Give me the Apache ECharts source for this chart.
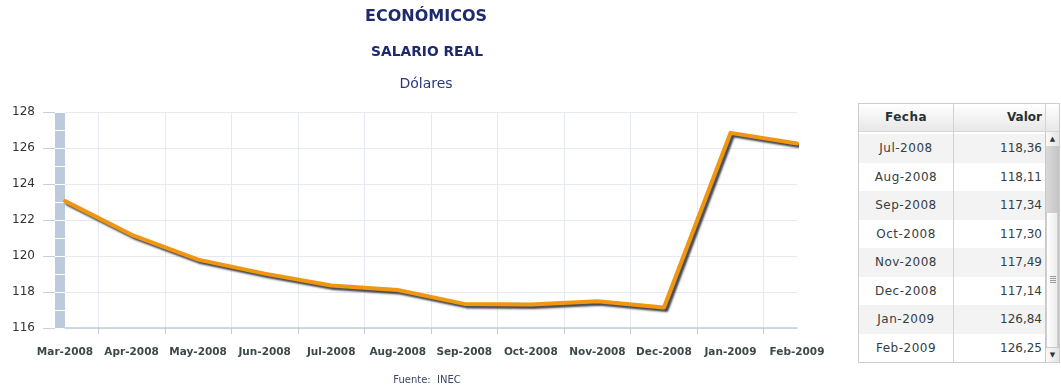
<!DOCTYPE html>
<html>
<head>
<meta charset="utf-8">
<script src="https://cdn.jsdelivr.net/npm/echarts@6/dist/echarts.min.js"></script>
<style>
  html, body { margin: 0; padding: 0; background: #fff; }
  #chart { position: absolute; left: 0; top: 0; width: 1061px; height: 392px; }
  #tbl {
    position: absolute; left: 858px; top: 103px; width: 202px; height: 260px;
    box-sizing: border-box; border: 1px solid #cdcdcd; background: #fff;
    font-family: 'DejaVu Sans', Verdana, sans-serif; font-size: 12px; color: #33403f;
    overflow: hidden;
  }
  #tbl .head { display: flex; height: 27px; line-height: 27px; font-weight: bold; color: #263131;
    background: linear-gradient(#ffffff, #e7e7e7); border-bottom: 1px solid #d6d6d6; }
  #tbl .c1 { width: 95px; text-align: center; border-right: 1px solid #d2d2d2; box-sizing: border-box; letter-spacing: 0.5px; }
  #tbl .c2 { width: 91px; text-align: right; padding-right: 3px; box-sizing: border-box; }
  #tbl .c3 { width: 14px; border-left: 1px solid #d2d2d2; box-sizing: border-box; }
  #tbl .body { position: absolute; left: 0; top: 28px; width: 186px; height: 230px; overflow: hidden; }
  #tbl .row { display: flex; height: 28.5px; line-height: 28.5px; }
  #tbl .row.alt { background: #f3f3f3; }
  #sb { position: absolute; left: 186px; top: 28px; width: 14px; height: 230px; border-left: 1px solid #c8c8c8; box-sizing: border-box; background: #fff; }
  #sb .btn { position: absolute; left: 0; width: 13px; height: 14px; background: linear-gradient(90deg, #fafafa, #e4e4e4);
    font-size: 7px; line-height: 14px; text-align: center; color: #333; }
  #sb .up { top: 0; }
  #sb .down { bottom: 0; border-top: 1px solid #c8c8c8; }
  #sb .track { position: absolute; left: 0; top: 14px; width: 13px; bottom: 14px; background: linear-gradient(90deg, #d9d9d9, #c4c4c4); }
  #sb .thumb { position: absolute; left: 0; width: 12px; box-sizing: border-box; background: linear-gradient(90deg, #ffffff, #ececec);
    border: 1px solid #cfcfcf; }
  #sb .grip { position: absolute; left: 3px; width: 6px; height: 7px; top: 50%; margin-top: -4px;
    background: repeating-linear-gradient(#9a9a9a 0 1px, transparent 1px 2px); }
</style>
</head>
<body>
<div id="chart"></div>
<div id="tbl">
  <div class="head"><div class="c1">Fecha</div><div class="c2">Valor</div><div class="c3"></div></div>
  <div class="body" id="rows"></div>
  <div id="sb">
    <div class="btn up">&#9650;</div>
    <div class="track"><div class="thumb" id="thumb"><div class="grip"></div></div></div>
    <div class="btn down">&#9660;</div>
  </div>
</div>
<script>
// Monthly real wage (USD), March 2008 – February 2009
const months = ['Mar-2008', 'Apr-2008', 'May-2008', 'Jun-2008', 'Jul-2008', 'Aug-2008',
                'Sep-2008', 'Oct-2008', 'Nov-2008', 'Dec-2008', 'Jan-2009', 'Feb-2009'];
const salario = [123.05, 121.18, 119.80, 119.02, 118.36, 118.11,
                 117.34, 117.30, 117.49, 117.14, 126.84, 126.25];

// Value axis range
const yMin = 116;
const yMax = 128;
const yStep = 2;

const FONT = "'DejaVu Sans', Verdana, sans-serif";

// Half-step slots between categories: odd slots sit midway between two months
const gridSlots = Array.from({ length: 2 * (months.length - 1) + 1 }, () => '');
const oddSlot = (i) => i % 2 === 1;

const chart = echarts.init(document.getElementById('chart'), null, { renderer: 'canvas' });
chart.setOption({
  animation: false,
  backgroundColor: '#fff',
  title: [
    { text: 'ECONÓMICOS', left: 426, top: 9, padding: 0, textAlign: 'center',
      textStyle: { fontFamily: FONT, fontSize: 16, fontWeight: 'bold', color: '#1e2a6e' } },
    { text: 'SALARIO REAL', left: 427, top: 45, padding: 0, textAlign: 'center',
      textStyle: { fontFamily: FONT, fontSize: 13.8, fontWeight: 'bold', color: '#1e2a6e' } },
    { text: 'Dólares', left: 426, top: 77, padding: 0, textAlign: 'center',
      textStyle: { fontFamily: FONT, fontSize: 14, fontWeight: 'normal', color: '#2a3680' } },
    { text: 'Fuente:  INEC', left: 427, top: 375, padding: 0, textAlign: 'center',
      textStyle: { fontFamily: FONT, fontSize: 10, fontWeight: 'normal', color: '#3b4766' } }
  ],
  grid: [
    { left: 65, right: 264, top: 112, bottom: 64 },
    // shaded band along the value axis
    { left: 55, width: 10, top: 112, bottom: 64, show: true, backgroundColor: '#bccadb', borderWidth: 0 }
  ],
  xAxis: [
    {
      type: 'category', data: months, boundaryGap: false,
      axisLine: { lineStyle: { color: '#c3cbd6', width: 1.5 } },
      axisTick: { show: false },
      axisLabel: { interval: 0, margin: 19, fontFamily: FONT, fontSize: 10.5, fontWeight: 'bold', color: '#3d4949' },
      splitLine: { show: false }
    },
    {
      type: 'category', data: gridSlots, boundaryGap: false, position: 'bottom',
      axisLine: { show: false },
      axisLabel: { show: false },
      axisTick: { show: true, interval: oddSlot, length: 6, lineStyle: { color: '#c3cbd6' } },
      splitLine: { show: true, interval: oddSlot, lineStyle: { color: '#e6e9ef', width: 1 } }
    },
    {
      gridIndex: 1, type: 'value', min: 0, max: 1,
      axisLine: { show: false }, axisTick: { show: false }, axisLabel: { show: false }, splitLine: { show: false }
    }
  ],
  yAxis: [
    {
      type: 'value', min: yMin, max: yMax, interval: yStep, offset: 10,
      axisLine: { show: false },
      axisTick: { show: true, length: 12, lineStyle: { color: '#c8d0dc' } },
      axisLabel: { margin: 20, fontFamily: FONT, fontSize: 12, color: '#333' },
      splitLine: { show: true, lineStyle: { color: '#e6e9ef', width: 1 } }
    },
    {
      // white notches across the shaded band, one per unit
      gridIndex: 1, type: 'value', min: yMin, max: yMax, interval: 1,
      axisLine: { show: false }, axisTick: { show: false }, axisLabel: { show: false },
      splitLine: { show: true, lineStyle: { color: '#ffffff', width: 1 } }
    }
  ],
  series: [{
    type: 'line',
    name: 'Salario real',
    data: salario,
    xAxisIndex: 0, yAxisIndex: 0,
    symbol: 'none',
    z: 6,
    lineStyle: {
      color: '#f1960f', width: 4, join: 'round', cap: 'round',
      shadowColor: 'rgba(35,35,45,0.85)', shadowBlur: 2, shadowOffsetX: 2.5, shadowOffsetY: 2.5
    }
  }]
});

// Data table beside the chart, scrolled to the most recent months
const fmt = (v) => v.toFixed(2).replace('.', ',');
const rowsEl = document.getElementById('rows');
rowsEl.innerHTML = months.map((m, i) =>
  '<div class="row' + (i % 2 === 0 ? ' alt' : '') + '"><div class="c1">' + m +
  '</div><div class="c2">' + fmt(salario[i]) + '</div></div>').join('');
rowsEl.scrollTop = rowsEl.scrollHeight;

// Scrollbar thumb reflects the visible share of rows
const track = document.querySelector('#sb .track');
const thumb = document.getElementById('thumb');
const trackH = track.clientHeight;
const ratio = rowsEl.clientHeight / rowsEl.scrollHeight;
const thumbH = Math.round(trackH * ratio);
const maxScroll = rowsEl.scrollHeight - rowsEl.clientHeight;
const pos = maxScroll > 0 ? rowsEl.scrollTop / maxScroll : 0;
thumb.style.height = thumbH + 'px';
thumb.style.top = Math.round((trackH - thumbH) * pos) + 'px';
</script>
</body>
</html>
